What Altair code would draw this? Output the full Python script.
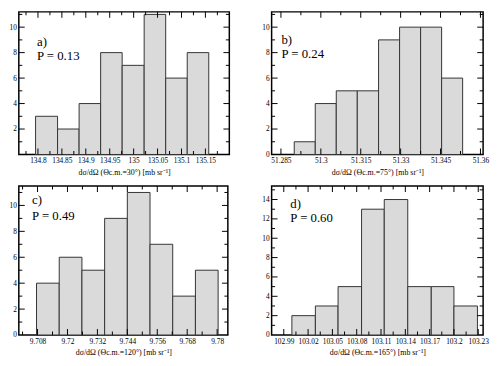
import altair as alt
import pandas as pd

FONT = "Liberation Serif"

# ---------------- data ----------------
# panel a
a_edges = [134.795, 134.841, 134.886, 134.931, 134.976, 135.022, 135.067, 135.112, 135.157]
a_counts = [3, 2, 4, 8, 7, 11, 6, 8]
a_xdomain = [134.76, 135.2]
a_xmajor = [134.8, 134.85, 134.9, 134.95, 135.0, 135.05, 135.1, 135.15]
a_xminor = [134.775, 134.825, 134.875, 134.925, 134.975, 135.025, 135.075, 135.125, 135.175]
a_ydomain = [0, 11.2]
a_ylabels = [2, 4, 6, 8, 10]
a_ymajor = [2, 4, 6, 8, 10]
a_yminor = [1, 3, 5, 7, 9, 11]
a_title = "dσ/dΩ (Θc.m.=30°) [mb sr⁻¹]"
a_label = "a)"
a_p = "P = 0.13"

# panel b
b_edges = [51.2900, 51.2979, 51.3058, 51.3137, 51.3217, 51.3296, 51.3375, 51.3454, 51.3533]
b_counts = [1, 4, 5, 5, 9, 10, 10, 6]
b_xdomain = [51.2815, 51.3610]
b_xmajor = [51.285, 51.3, 51.315, 51.33, 51.345, 51.36]
b_xminor = [51.2925, 51.3075, 51.3225, 51.3375, 51.3525]
b_ydomain = [0, 11.2]
b_ylabels = [0, 2, 4, 6, 8, 10]
b_ymajor = [2, 4, 6, 8, 10]
b_yminor = [1, 3, 5, 7, 9, 11]
b_title = "dσ/dΩ (Θc.m.=75°) [mb sr⁻¹]"
b_label = "b)"
b_p = "P = 0.24"

# panel c
c_edges = [9.7076, 9.7167, 9.7258, 9.7349, 9.7440, 9.7531, 9.7622, 9.7713, 9.7804]
c_counts = [4, 6, 5, 9, 11, 7, 3, 5]
c_xdomain = [9.7005, 9.7843]
c_xmajor = [9.708, 9.72, 9.732, 9.744, 9.756, 9.768, 9.78]
c_xminor = [9.702, 9.714, 9.726, 9.738, 9.75, 9.762, 9.774]
c_ydomain = [0, 11.5]
c_ylabels = [0, 2, 4, 6, 8, 10]
c_ymajor = [2, 4, 6, 8, 10]
c_yminor = [1, 3, 5, 7, 9, 11]
c_title = "dσ/dΩ (Θc.m.=120°) [mb sr⁻¹]"
c_label = "c)"
c_p = "P = 0.49"

# panel d
d_edges = [103.000, 103.029, 103.057, 103.086, 103.114, 103.143, 103.172, 103.200, 103.229]
d_counts = [2, 3, 5, 13, 14, 5, 5, 3]
d_xdomain = [102.975, 103.236]
d_xmajor = [102.99, 103.02, 103.05, 103.08, 103.11, 103.14, 103.17, 103.2, 103.23]
d_xminor = [103.005, 103.035, 103.065, 103.095, 103.125, 103.155, 103.185, 103.215]
d_ydomain = [0, 15.4]
d_ylabels = [0, 2, 4, 6, 8, 10, 12, 14]
d_ymajor = [2, 4, 6, 8, 10, 12, 14]
d_yminor = [1, 3, 5, 7, 9, 11, 13, 15]
d_title = "dσ/dΩ (Θc.m.=165°) [mb sr⁻¹]"
d_label = "d)"
d_p = "P = 0.60"

MAJOR = 6
MINOR = 3.5


def panel(edges, counts, xdom, xmaj, xmin, ydom, ylab, ymaj, ymin, title, label, pval,
          w, h, tx, ty1, ty2):
    df = pd.DataFrame({"lo": edges[:-1], "hi": edges[1:], "n": counts})
    xs = alt.Scale(domain=xdom, nice=False, zero=False)
    ys = alt.Scale(domain=ydom, nice=False, zero=False)
    xaxis = alt.Axis(values=xmaj, format=".6~g", ticks=False, tickSize=0, domain=False,
                     grid=False, labelFont=FONT, labelFontSize=7.5, labelPadding=2.5,
                     labelColor="black", labelFlush=False, labelOverlap=False,
                     title=title, titleFont=FONT, titleFontSize=8, titleFontWeight="normal",
                     titlePadding=4, titleColor="black")
    yaxis = alt.Axis(values=ylab, format=".6~g", ticks=False, tickSize=0, domain=False,
                     grid=False, labelFont=FONT, labelFontSize=7.5, labelPadding=2.5,
                     labelColor="black", labelFlush=False, labelOverlap=False, title=None)
    bars = alt.Chart(df).mark_bar(fill="#dadada", stroke="#333333", strokeWidth=1).encode(
        x=alt.X("lo:Q", scale=xs, axis=xaxis),
        x2="hi:Q",
        y=alt.Y("n:Q", scale=ys, axis=yaxis),
        y2=alt.datum(0),
    )
    layers = [bars]
    # tick marks, drawn inward on all four sides
    for vals, size in [(xmaj, MAJOR), (xmin, MINOR)]:
        tdf = pd.DataFrame({"v": vals})
        for yc in [h - size / 2, size / 2]:
            layers.append(alt.Chart(tdf).mark_tick(
                orient="vertical", thickness=1, size=size, color="black", opacity=1).encode(
                x=alt.X("v:Q", scale=xs, axis=xaxis), y=alt.value(yc)))
    for vals, size in [(ymaj, MAJOR), (ymin, MINOR)]:
        tdf = pd.DataFrame({"v": vals})
        for xc in [size / 2, w - size / 2]:
            layers.append(alt.Chart(tdf).mark_tick(
                orient="horizontal", thickness=1, size=size, color="black", opacity=1).encode(
                y=alt.Y("v:Q", scale=ys, axis=yaxis), x=alt.value(xc)))
    for txt, ty in [(label, ty1), (pval, ty2)]:
        layers.append(
            alt.Chart(pd.DataFrame({"t": [txt]})).mark_text(
                align="left", baseline="alphabetic", font=FONT, fontSize=13,
                color="black").encode(text="t:N", x=alt.value(tx), y=alt.value(ty))
        )
    return alt.layer(*layers).properties(width=w, height=h)


pa = panel(a_edges, a_counts, a_xdomain, a_xmajor, a_xminor, a_ydomain, a_ylabels, a_ymajor,
           a_yminor, a_title, a_label, a_p, 214, 145, 18.5, 35, 49)
pb = panel(b_edges, b_counts, b_xdomain, b_xmajor, b_xminor, b_ydomain, b_ylabels, b_ymajor,
           b_yminor, b_title, b_label, b_p, 215, 145, 10, 32.5, 47)
pc = panel(c_edges, c_counts, c_xdomain, c_xmajor, c_xminor, c_ydomain, c_ylabels, c_ymajor,
           c_yminor, c_title, c_label, c_p, 212.5, 151.5, 13.5, 18.5, 34.5)
pd_ = panel(d_edges, d_counts, d_xdomain, d_xmajor, d_xminor, d_ydomain, d_ylabels, d_ymajor,
            d_yminor, d_title, d_label, d_p, 215, 151.5, 19, 22.5, 37)

chart = alt.concat(
    pa, pb, pc, pd_, columns=2, bounds="flush",
    spacing=alt.RowColnumber(row=32, column=43),
).properties(padding=0).configure_view(stroke="black", strokeWidth=1.5)

chart.save("out.html", embed_options={"renderer": "svg", "actions": False})
